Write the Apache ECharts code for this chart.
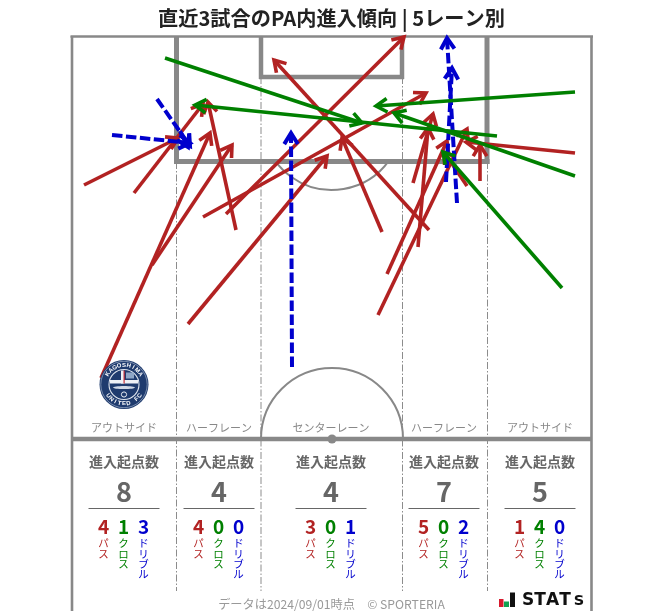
<!DOCTYPE html>
<html>
<head>
<meta charset="utf-8">
<style>html,body{margin:0;padding:0;background:#fff}#c{width:663px;height:611px}</style>
<script src="https://cdn.jsdelivr.net/npm/echarts@6/dist/echarts.min.js"></script>
</head>
<body>
<div id="c"></div>
<script>
const TITLE = '直近3試合のPA内進入傾向 | 5レーン別';
const FOOTER = 'データは2024/09/01時点　© SPORTERIA';
const laneNames = ['アウトサイド','ハーフレーン','センターレーン','ハーフレーン','アウトサイド'];
const laneCenters = [124,219,331,444,540];
const laneTotals = [8,4,4,7,5];
const lanePass = [4,4,3,5,1];
const laneCross = [1,0,0,0,4];
const laneDribble = [3,0,1,2,0];
const passArrows = [
  [84,185,178,138],[134,193,203,104],[101,378,210,133],[152,265,232,145],
  [236,230,208,102],[203,217,426,93],[226,214,404,37],[188,324,327,156],
  [382,232,342,138],[387,274,447,141],[378,315,467,129],
  [429,230,274,60],[418,247,428,128],[413,183,433,114],[467,186,444,152],[480,181,480,145],
  [575,153,466,142]
];
const crossArrows = [
  [165,58,362,123],[497,136,195,105],[575,92,376,106],[575,176,394,113],[562,288,443,152]
];
const dribbleArrows = [
  [157,99,190,146],[112,135,190,143],[180,131,188,147],[292,367,291,133],[446,182,452,68],[457,203,447,38]
];
const RED='#b22222', GREEN='#008000', BLUE='#0000cd', LINE='#888888', JP='"Noto Sans CJK JP","Noto Sans",sans-serif';

const chart = echarts.init(document.getElementById('c'), null, {renderer:'canvas'});

function arrowSeries(rows, color, dash, z, w){
  return {
    type:'custom', coordinateSystem:'cartesian2d', silent:true, clip:false, z,
    data:rows, animation:false,
    renderItem(p, api){
      const a = api.coord([api.value(0),api.value(1)]), b = api.coord([api.value(2),api.value(3)]);
      const ang = Math.atan2(a[1]-b[1],a[0]-b[0]), L=13, S=0.55;
      const h1=[b[0]+L*Math.cos(ang+S),b[1]+L*Math.sin(ang+S)], h2=[b[0]+L*Math.cos(ang-S),b[1]+L*Math.sin(ang-S)];
      return {type:'group',children:[
        {type:'line',shape:{x1:a[0],y1:a[1],x2:b[0],y2:b[1]},style:{stroke:color,lineWidth:w,lineDash:dash,fill:null}},
        {type:'polyline',shape:{points:[h1,b,h2]},style:{stroke:color,lineWidth:w,fill:null,lineJoin:'miter'}}
      ]};
    }
  };
}

function line(api,x1,y1,x2,y2,w,c,dash){
  const a=api.coord([x1,y1]),b=api.coord([x2,y2]);
  return {type:'line',shape:{x1:a[0],y1:a[1],x2:b[0],y2:b[1]},style:{stroke:c||LINE,lineWidth:w,lineDash:dash||null,fill:null}};
}
function txt(api,x,y,text,font,fill,extra){
  const a=api.coord([x,y]);
  return {type:'text',x:a[0],y:a[1],style:Object.assign({text,font,fill,align:'center',verticalAlign:'middle'},extra||{})};
}

const pitchSeries = {
  type:'custom',coordinateSystem:'cartesian2d',silent:true,clip:false,z:1,data:[[0,0]],
  renderItem(p,api){
    const ch=[];
    const DD=[7,2,1.5,2];
    [[176.5,162],[261,77],[402.5,77],[487.5,162]].forEach(d=>ch.push(line(api,d[0],d[1],d[0],591,1,'#8c8c8c',DD)));
    const c1=api.coord([332,439]),c2=api.coord([332,120]);
    ch.push({type:'arc',shape:{cx:c1[0],cy:c1[1],r:71,startAngle:Math.PI,endAngle:2*Math.PI},style:{stroke:LINE,lineWidth:2,fill:null}});
    ch.push({type:'arc',shape:{cx:c2[0],cy:c2[1],r:70,startAngle:0.62,endAngle:Math.PI-0.62},style:{stroke:LINE,lineWidth:2,fill:null}});
    ch.push(line(api,72,36,72,611,2.6));
    ch.push(line(api,591.5,36,591.5,611,2.6));
    ch.push(line(api,70.5,36.5,593,36.5,2.6));
    ch.push(line(api,72,439,591,439,4.5));
    ch.push(line(api,176.5,37,176.5,164,5));
    ch.push(line(api,487,37,487,164,5));
    ch.push(line(api,174,161.5,489.5,161.5,5));
    ch.push(line(api,261,37,261,79,4.5));
    ch.push(line(api,402,37,402,79,4.5));
    ch.push(line(api,259,77,404,77,4.5));
    ch.push({type:'circle',shape:{cx:c1[0],cy:c1[1],r:4.5},style:{fill:LINE}});
    return {type:'group',children:ch};
  }
};

const laneSeries = {
  type:'custom',coordinateSystem:'cartesian2d',silent:true,clip:false,z:6,
  data:laneCenters.map((c,i)=>[c,i]),
  renderItem(p,api){
    const i=api.value(1), x=api.value(0);
    const ch=[];
    ch.push(txt(api,x,428,laneNames[i],'400 11px '+JP,'#888888'));
    ch.push(txt(api,x,462,'進入起点数','700 14px '+JP,'#666666'));
    ch.push(txt(api,x,492,String(laneTotals[i]),'700 27px '+JP,'#666666'));
    ch.push(line(api,x-35.5,508.5,x+35.5,508.5,1,'#666666'));
    const groups=[[-20.5,lanePass[i],'パス',RED],[-0.5,laneCross[i],'クロス',GREEN],[19.5,laneDribble[i],'ドリブル',BLUE]];
    groups.forEach(g=>{
      ch.push(txt(api,x+g[0],526.5,String(g[1]),'700 19px '+JP,g[3]));
      ch.push(txt(api,x+g[0],538,g[2].split('').join('\n'),'400 10.5px '+JP,g[3],{verticalAlign:'top',lineHeight:10.4}));
    });
    return {type:'group',children:ch};
  }
};

const decoSeries = {
  type:'custom',coordinateSystem:'cartesian2d',silent:true,clip:false,z:7,data:[[124,384.5]],
  renderItem(p,api){
    const c=api.coord([api.value(0),api.value(1)]), NAVY='#1f3b6e', ch=[];
    ch.push({type:'circle',shape:{cx:c[0],cy:c[1],r:24.5},style:{fill:NAVY}});
    ch.push({type:'circle',shape:{cx:c[0],cy:c[1],r:23.2},style:{fill:null,stroke:'#8ea0bd',lineWidth:0.8}});
    ch.push({type:'circle',shape:{cx:c[0],cy:c[1],r:15},style:{fill:NAVY,stroke:'#dfe5ee',lineWidth:1.1}});
    ch.push({type:'rect',shape:{x:c[0]-14,y:c[1]-4.5,width:28,height:3.5},style:{fill:'#eef1f6'}});
    ch.push({type:'rect',shape:{x:c[0]-3,y:c[1]-14,width:3,height:13},style:{fill:'#eef1f6'}});
    ch.push({type:'rect',shape:{x:c[0]-0.5,y:c[1]-14,width:1.2,height:13},style:{fill:'#c8303a'}});
    ch.push({type:'rect',shape:{x:c[0]+2,y:c[1]-12,width:8,height:6},style:{fill:'#8ea6c6'}});
    ch.push({type:'ellipse',shape:{cx:c[0],cy:c[1]+3,rx:11,ry:1.6},style:{fill:'#cfd8e6'}});
    ch.push({type:'circle',shape:{cx:c[0],cy:c[1]+10,r:2.6},style:{fill:NAVY,stroke:'#e8ecf2',lineWidth:1}});
    const arc=(s,from,to,r,top)=>s.split('').forEach((t,k)=>{
      const a=from+(to-from)*k/(s.length-1);
      ch.push({type:'text',x:c[0]+r*Math.sin(a),y:c[1]-(top?1:-1)*r*Math.cos(a),rotation:top?-a:a,
        style:{text:t,font:'700 6px "Liberation Sans",sans-serif',fill:'#fff',align:'center',verticalAlign:'middle'}});
    });
    arc('KAGOSHIMA',-1.0,1.0,19.3,true);
    arc('UNITED FC',-0.95,0.95,19.3,false);
    const bars=[[499,599,4.5,8,'#d7192d'],[504,601.5,5,5.5,'#12a150'],[510,592.5,5,14.5,'#111111']];
    bars.forEach(b=>{const q=api.coord([b[0],b[1]]);ch.push({type:'rect',shape:{x:q[0],y:q[1],width:b[2],height:b[3]},style:{fill:b[4]}});});
    [['S',528,17],['T',540,17],['A',552.5,17],['T',565,17],['S',579,14.5]].forEach(g=>{
      ch.push(txt(api,g[1],g[2]===17?600.5:601.5,g[0],'700 '+g[2]+'px "DejaVu Sans",sans-serif','#111111'));
    });
    ch.push(txt(api,331.5,604,FOOTER,'400 12.2px '+JP,'#999999'));
    return {type:'group',children:ch};
  }
};

chart.setOption({
  animation:false,
  backgroundColor:'#fff',
  title:{text:TITLE,left:'center',top:3,textStyle:{fontFamily:'Noto Sans CJK JP',fontWeight:700,fontSize:20.2,color:'#222'}},
  grid:{left:0,right:0,top:0,bottom:0},
  xAxis:{type:'value',min:0,max:663,show:false},
  yAxis:{type:'value',min:0,max:611,inverse:true,show:false},
  series:[
    pitchSeries,
    arrowSeries(passArrows,RED,null,3,3.6),
    arrowSeries(dribbleArrows,BLUE,[10.5,3.5],4,4),
    arrowSeries(crossArrows,GREEN,null,5,3.6),
    laneSeries,
    decoSeries
  ]
});
</script>
</body>
</html>
